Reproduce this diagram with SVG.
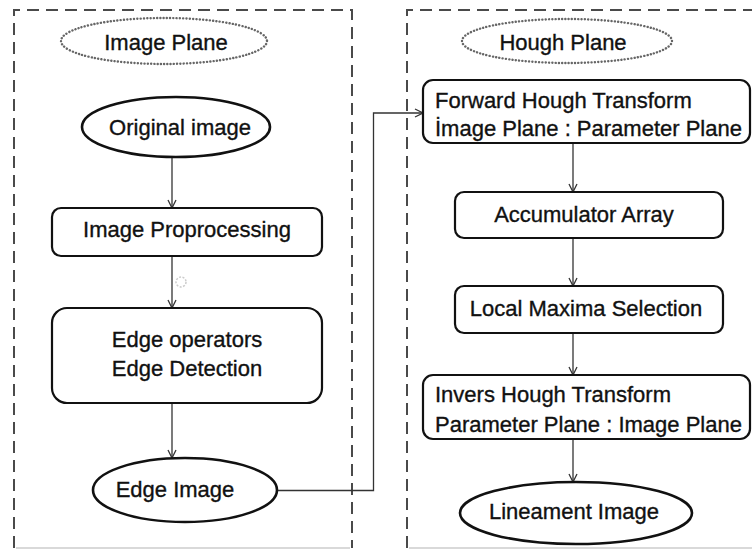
<svg xmlns="http://www.w3.org/2000/svg" width="752" height="551" viewBox="0 0 752 551">
  <defs>
    <marker id="arrow" viewBox="0 0 10 10" refX="9" refY="5" markerWidth="10" markerHeight="10" markerUnits="userSpaceOnUse" orient="auto">
      <path d="M1,1 L9,5 L1,9" fill="none" stroke="#333" stroke-width="1.3"/>
    </marker>
  </defs>
  <style>
    text { font-family: "Liberation Sans", Arial, sans-serif; font-size: 22px; fill: #111; stroke: #111; stroke-width: 0.35; }
    .mid { text-anchor: middle; }
    .panel { fill: none; stroke: #4a4a4a; stroke-width: 2; stroke-dasharray: 12 7; }
    .panel-base { fill: none; stroke: #ccc; stroke-width: 1.5; }
    .title { fill: none; stroke: #666; stroke-width: 2.4; stroke-dasharray: 0.1 3.2; stroke-linecap: round; }
    .box { fill: #fff; stroke: #111; stroke-width: 2.2; }
    .term { fill: #fff; stroke: #111; stroke-width: 2.6; }
    .edge { fill: none; stroke: #333; stroke-width: 1.3; }
  </style>

  <rect width="752" height="551" fill="#fff"/>

  <!-- Image plane panel -->
  <g id="panel-image">
    <path class="panel" d="M14,548 V10 H352 V548"/>
    <line class="panel-base" x1="16" y1="548" x2="350" y2="548"/>
    <ellipse class="title" cx="164" cy="41" rx="103" ry="23"/>
    <text class="mid" x="166" y="50">Image Plane</text>
  </g>

  <!-- Hough plane panel -->
  <g id="panel-hough">
    <path class="panel" d="M407,548 V10 H760"/>
    <line class="panel-base" x1="409" y1="548" x2="752" y2="548"/>
    <ellipse class="title" cx="567" cy="41" rx="105" ry="22"/>
    <text class="mid" x="563" y="50">Hough Plane</text>
  </g>

  <!-- Connectors -->
  <g id="connectors">
    <line class="edge" x1="172" y1="157" x2="172" y2="208" marker-end="url(#arrow)"/>
    <line class="edge" x1="172" y1="256" x2="172" y2="308" marker-end="url(#arrow)"/>
    <line class="edge" x1="172" y1="403" x2="172" y2="458" marker-end="url(#arrow)"/>
    <path class="edge" d="M277,490.5 H373.5 V113 H423" marker-end="url(#arrow)"/>
    <line class="edge" x1="573" y1="143" x2="573" y2="192" marker-end="url(#arrow)"/>
    <line class="edge" x1="573" y1="238" x2="573" y2="286" marker-end="url(#arrow)"/>
    <line class="edge" x1="573" y1="333" x2="573" y2="375" marker-end="url(#arrow)"/>
    <line class="edge" x1="573" y1="439" x2="573" y2="482" marker-end="url(#arrow)"/>
  </g>

  <!-- faint circle mark beside the preprocessing link -->
  <circle cx="181" cy="282" r="5" fill="none" stroke="#ccc" stroke-width="1.5" stroke-dasharray="2 1.5"/>

  <g id="original-image">
    <ellipse class="term" cx="176" cy="127" rx="94" ry="30"/>
    <text class="mid" x="180" y="135">Original image</text>
  </g>

  <g id="image-preprocessing">
    <rect class="box" x="52" y="208" width="270" height="48" rx="9"/>
    <text class="mid" x="187" y="237">Image Proprocessing</text>
  </g>

  <g id="edge-detection">
    <rect class="box" x="52" y="308" width="270" height="95" rx="15"/>
    <text class="mid" x="187" y="347">Edge operators</text>
    <text class="mid" x="187" y="376">Edge Detection</text>
  </g>

  <g id="edge-image">
    <ellipse class="term" cx="185" cy="490" rx="92" ry="32"/>
    <text class="mid" x="175" y="497">Edge Image</text>
  </g>

  <g id="forward-hough">
    <rect class="box" x="423" y="80" width="327" height="63" rx="10"/>
    <text x="435" y="108">Forward Hough Transform</text>
    <text x="435" y="136">İmage Plane : Parameter Plane</text>
  </g>

  <g id="accumulator">
    <rect class="box" x="455" y="192" width="268" height="46" rx="9"/>
    <text class="mid" x="584" y="222">Accumulator Array</text>
  </g>

  <g id="local-maxima">
    <rect class="box" x="455" y="286" width="268" height="47" rx="9"/>
    <text class="mid" x="586" y="316">Local Maxima Selection</text>
  </g>

  <g id="inverse-hough">
    <rect class="box" x="423" y="375" width="327" height="64" rx="10"/>
    <text x="435" y="402">Invers Hough Transform</text>
    <text x="435" y="432">Parameter Plane : Image Plane</text>
  </g>

  <g id="lineament-image">
    <ellipse class="term" cx="576" cy="513" rx="116" ry="31"/>
    <text class="mid" x="574" y="519">Lineament Image</text>
  </g>
</svg>
